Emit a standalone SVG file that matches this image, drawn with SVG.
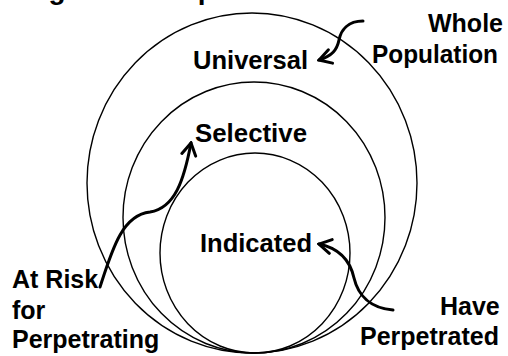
<svg xmlns="http://www.w3.org/2000/svg" width="508" height="356" viewBox="0 0 508 356">
  <style>
    .ring { fill: none; stroke: #000; stroke-width: 1.4; }
    .lbl { font-family: "Liberation Sans", Arial, sans-serif; font-weight: bold; font-size: 25px; fill: #000; }
    .arrow { fill: none; stroke: #000; stroke-width: 3; stroke-linecap: round; marker-end: url(#chev); }
  </style>
  <defs>
    <marker id="chev" viewBox="0 0 16 18" refX="14" refY="9" markerWidth="16" markerHeight="18" markerUnits="userSpaceOnUse" orient="auto">
      <path d="M 2,2 L 14,9 L 2,16" fill="none" stroke="#000" stroke-width="3" stroke-linecap="round" stroke-linejoin="miter"/>
    </marker>
  </defs>
  <rect width="508" height="356" fill="#fff"/>
  <text class="lbl" x="7" y="-1" font-size="28" style="font-size:28px">Targeted Groups</text>

  <g id="universal">
    <ellipse class="ring" cx="252" cy="183" rx="165" ry="170"/>
    <text class="lbl" x="193" y="69" textLength="115" lengthAdjust="spacingAndGlyphs">Universal</text>
  </g>
  <g id="selective">
    <ellipse class="ring" cx="254" cy="217.5" rx="131" ry="135.5"/>
    <text class="lbl" x="195" y="142" textLength="112" lengthAdjust="spacingAndGlyphs">Selective</text>
  </g>
  <g id="indicated">
    <ellipse class="ring" cx="255" cy="253" rx="95" ry="100"/>
    <text class="lbl" x="200" y="252" textLength="112" lengthAdjust="spacingAndGlyphs">Indicated</text>
  </g>
  <g id="whole-population">
    <text class="lbl" x="428" y="32" textLength="75" lengthAdjust="spacingAndGlyphs">Whole</text>
    <text class="lbl" x="372" y="63" textLength="126" lengthAdjust="spacingAndGlyphs">Population</text>
  </g>
  <g id="at-risk">
    <text class="lbl" x="12" y="288">At Risk</text>
    <text class="lbl" x="12" y="319">for</text>
    <text class="lbl" x="12" y="348">Perpetrating</text>
  </g>
  <g id="have-perpetrated">
    <text class="lbl" x="440" y="315">Have</text>
    <text class="lbl" x="360" y="345">Perpetrated</text>
  </g>

  <g id="connectors">
    <path class="arrow" d="M 363,21 C 348,21 341,30 339,40 C 337,50 332,56 319,60"/>
    <path class="arrow" d="M 100,287 C 112,250 122,215 150,212 C 175,208 184,180 191,143"/>
    <path class="arrow" d="M 393,310 C 370,308 358,295 354,278 C 350,260 338,248 319,244"/>
  </g>
</svg>
